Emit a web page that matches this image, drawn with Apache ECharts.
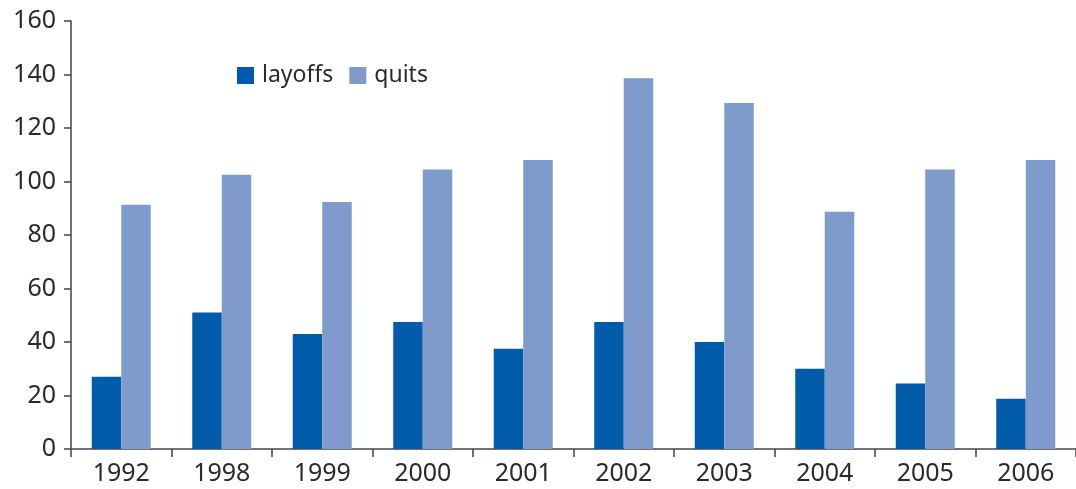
<!DOCTYPE html>
<html>
<head>
<meta charset="utf-8">
<script src="https://cdn.jsdelivr.net/npm/echarts@6/dist/echarts.min.js"></script>
<style>
  html, body { margin: 0; padding: 0; background: #fff; }
  #chart { width: 1076px; height: 489px; }
</style>
</head>
<body>
<div id="chart"></div>
<script>
// Annual job separations, in thousands
const years = ['1992', '1998', '1999', '2000', '2001', '2002', '2003', '2004', '2005', '2006'];
const layoffs = [27, 51, 43, 47.5, 37.5, 47.5, 40, 30, 24.5, 18.8];
const quits = [91.3, 102.5, 92.3, 104.5, 108, 138.6, 129.3, 88.7, 104.5, 108];
const yTicks = { min: 0, max: 160, interval: 20 };

const textColor = '#2b2b2b';
const axisColor = '#444';
const font = 'Noto Sans';

const chart = echarts.init(document.getElementById('chart'), null, { renderer: 'canvas' });
chart.setOption({
  animation: false,
  textStyle: { fontFamily: font },
  legend: {
    left: 237, top: 64,
    padding: 0,
    itemWidth: 17, itemHeight: 17, itemGap: 16,
    icon: 'rect',
    textStyle: { fontSize: 23, color: textColor, fontFamily: font, padding: [0, 0, 0, 3] },
    data: ['layoffs', 'quits']
  },
  grid: { left: 71, top: 21, width: 1011, height: 428, containLabel: false },
  xAxis: {
    type: 'category',
    data: years,
    axisLine: { lineStyle: { color: axisColor, width: 1.5 } },
    axisTick: { show: true, length: 8, lineStyle: { color: axisColor, width: 1.5 } },
    axisLabel: { fontSize: 25, color: textColor, margin: 12, fontFamily: font },
    splitLine: { show: false }
  },
  yAxis: {
    type: 'value',
    min: yTicks.min, max: yTicks.max, interval: yTicks.interval,
    axisLine: { show: true, lineStyle: { color: axisColor, width: 1.5 } },
    axisTick: { show: true, length: 7, lineStyle: { color: axisColor, width: 1.5 } },
    axisLabel: { fontSize: 25, color: textColor, margin: 15, fontFamily: font },
    splitLine: { show: false }
  },
  series: [
    {
      name: 'layoffs', type: 'bar', data: layoffs,
      barWidth: 29.5, barGap: '0%',
      itemStyle: { color: '#005baa' }
    },
    {
      name: 'quits', type: 'bar', data: quits,
      barWidth: 29.5, barGap: '0%',
      itemStyle: { color: '#7f9bcc' }
    }
  ]
});
</script>
</body>
</html>
